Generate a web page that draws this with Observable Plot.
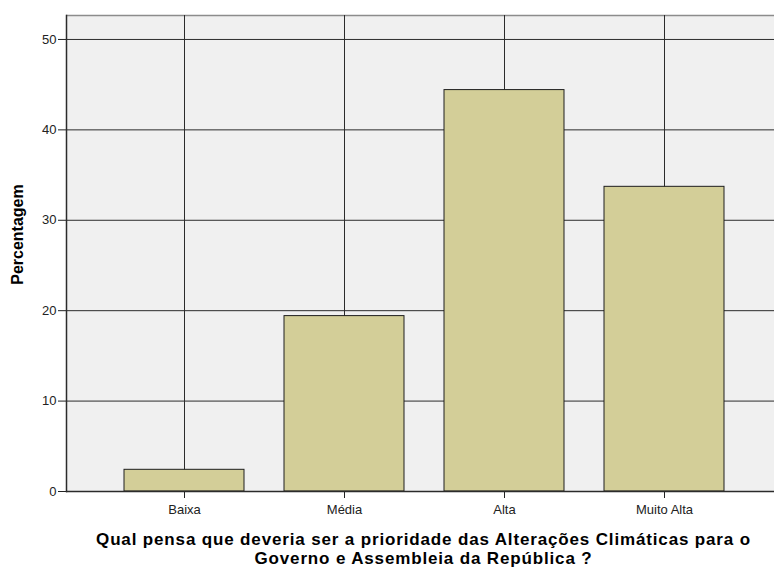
<!DOCTYPE html>
<html>
<head>
<meta charset="utf-8">
<script src="https://cdn.jsdelivr.net/npm/d3@7"></script>
<script src="https://cdn.jsdelivr.net/npm/@observablehq/plot@0.6"></script>
<style>
  html, body { margin: 0; padding: 0; background: #ffffff; }
  #chart svg { display: block; }
</style>
</head>
<body>
<div id="chart"></div>
<script>
const categories = ["Baixa", "Média", "Alta", "Muito Alta"];
const percentages = [2.4, 19.4, 44.4, 33.7];
const yTicks = [0, 10, 20, 30, 40, 50];
const yLabel = "Percentagem";
const xTitleLines = [
  "Qual pensa que deveria ser a prioridade das Alterações Climáticas para o",
  "Governo e Assembleia da República ?"
];

const data = categories.map((c, i) => ({category: c, value: percentages[i]}));
const font = "'Liberation Sans', Arial, sans-serif";

const chart = Plot.plot({
  width: 774,
  height: 567,
  marginLeft: 66,
  marginRight: 0,
  marginTop: 15,
  marginBottom: 76,
  style: {fontFamily: font, fontSize: "13px", color: "#222", background: "#ffffff", overflow: "hidden"},
  x: {type: "band", domain: categories, range: [66, 781.6], paddingInner: 0.25, paddingOuter: 0.35, label: null},
  y: {domain: [0, 52.65], ticks: yTicks, label: null},
  marks: [
    Plot.frame({fill: "#f0f0f0", stroke: null}),
    Plot.ruleY([52.65], {stroke: "#8c8c8c", strokeWidth: 1.5}),
    Plot.gridX({stroke: "#2b2b2b", strokeOpacity: 1, strokeWidth: 1}),
    Plot.gridY(yTicks, {stroke: "#2b2b2b", strokeOpacity: 1, strokeWidth: 1}),
    Plot.barY(data, {x: "category", y: "value", fill: "#d3ce98", stroke: "#1e1e1e", strokeWidth: 1}),
    Plot.frame({anchor: "left", stroke: "#2b2b2b", strokeWidth: 1.5}),
    Plot.axisY(yTicks, {tickSize: 8, tickPadding: 2, fontSize: 13, stroke: "#222", label: null}),
    Plot.axisX({tickSize: 7, tickPadding: 6, fontSize: 13, stroke: "#222", label: null}),
    Plot.ruleY([0], {stroke: "#2b2b2b", strokeWidth: 1.5}),
    Plot.text([yLabel], {frameAnchor: "left", text: d => d, textAnchor: "middle", rotate: -90, dx: -49, dy: -19, fontWeight: "bold", fontSize: 16, fill: "#000"}),
    Plot.text([xTitleLines[0]], {frameAnchor: "bottom", text: d => d, dx: 3, dy: 41, lineAnchor: "top", fontWeight: "bold", fontSize: 17, fill: "#000"}),
    Plot.text([xTitleLines[1]], {frameAnchor: "bottom", text: d => d, dx: 3, dy: 60, lineAnchor: "top", fontWeight: "bold", fontSize: 17, fill: "#000"})
  ]
});
d3.select(chart).selectAll("text")
  .filter(function() { return xTitleLines.includes(this.textContent); })
  .attr("letter-spacing", "0.85px");
document.getElementById("chart").append(chart);
</script>
</body>
</html>
